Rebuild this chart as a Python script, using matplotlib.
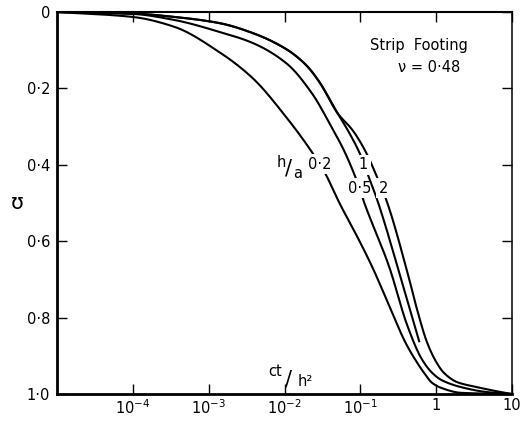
import numpy as np
import matplotlib
matplotlib.use("Agg")
import matplotlib.pyplot as plt
from matplotlib.ticker import NullLocator

# degree of consolidation U against time factor ct/h^2, strip footing, nu = 0.48
# (curves for h/a = 1 and 2 run together at early times)
x_02 = [1e-5, 1e-4, 3.55e-4, 1.38e-3, 3.8e-3, 0.0107, 0.0234, 0.0339, 0.053,
        0.0977, 0.144, 0.28, 0.379, 0.514, 0.695, 0.885, 1.164, 2.14, 10]
u_02 = [0, 0.013, 0.039, 0.105, 0.173, 0.277, 0.369, 0.42, 0.50,
        0.60, 0.668, 0.80, 0.859, 0.906, 0.945, 0.971, 0.984, 0.997, 1.0]

x_05 = [1e-5, 1e-4, 3.55e-4, 1.38e-3, 3.8e-3, 0.0107, 0.0234, 0.0389, 0.0617,
        0.0891, 0.113, 0.241, 0.415, 0.635, 0.859, 1.164, 2.13, 4.69, 10]
u_05 = [0, 0.005, 0.021, 0.052, 0.081, 0.135, 0.215, 0.29, 0.365,
        0.44, 0.50, 0.668, 0.82, 0.906, 0.942, 0.963, 0.982, 0.995, 1.0]

x_1 = [1e-5, 1e-4, 3.55e-4, 1.38e-3, 3.8e-3, 0.0107, 0.0195, 0.0288, 0.0501,
       0.0708, 0.0977, 0.123, 0.167, 0.346, 0.597]
u_1 = [0, 0.004, 0.013, 0.029, 0.055, 0.098, 0.140, 0.183, 0.265,
       0.315, 0.369, 0.421, 0.492, 0.70, 0.862]

x_2 = [1e-5, 1e-4, 3.55e-4, 1.38e-3, 3.8e-3, 0.0107, 0.0195, 0.0288, 0.0501,
       0.0794, 0.120, 0.162, 0.22, 0.442, 0.562, 0.762, 1.0, 1.27, 1.89, 3.46, 7.16, 10]
u_2 = [0, 0.004, 0.013, 0.029, 0.055, 0.098, 0.140, 0.183, 0.265,
       0.31, 0.369, 0.427, 0.492, 0.70, 0.78, 0.866, 0.916, 0.945, 0.969, 0.982, 0.995, 1.0]

x_ticks = [1e-4, 1e-3, 1e-2, 1e-1, 1, 10]
x_ticklabels = [r'$\mathregular{10^{-4}}$', r'$\mathregular{10^{-3}}$',
                r'$\mathregular{10^{-2}}$', r'$\mathregular{10^{-1}}$', '1', '10']
y_ticks = [0, 0.2, 0.4, 0.6, 0.8, 1.0]
y_ticklabels = ['0', '0·2', '0·4', '0·6', '0·8', '1·0']


def smooth(xk, yk, n=300):
    """Monotone cubic (Fritsch-Carlson) through the points, in log10(x)."""
    lx = np.log10(np.asarray(xk, float))
    y = np.asarray(yk, float)
    h = np.diff(lx)
    d = np.diff(y) / h
    m = np.zeros_like(y)
    m[0], m[-1] = d[0], d[-1]
    for k in range(1, len(y) - 1):
        if d[k - 1] * d[k] > 0:
            w1 = 2 * h[k] + h[k - 1]
            w2 = h[k] + 2 * h[k - 1]
            m[k] = (w1 + w2) / (w1 / d[k - 1] + w2 / d[k])
    xs = np.linspace(lx[0], lx[-1], n)
    idx = np.clip(np.searchsorted(lx, xs) - 1, 0, len(h) - 1)
    t = (xs - lx[idx]) / h[idx]
    h00 = 2 * t**3 - 3 * t**2 + 1
    h10 = t**3 - 2 * t**2 + t
    h01 = -2 * t**3 + 3 * t**2
    h11 = t**3 - t**2
    ys = (h00 * y[idx] + h10 * h[idx] * m[idx]
          + h01 * y[idx + 1] + h11 * h[idx] * m[idx + 1])
    return 10 ** xs, ys


plt.rcParams['font.family'] = ['DejaVu Sans']
plt.rcParams['mathtext.fontset'] = 'dejavusans'

fig = plt.figure(figsize=(5.21, 4.25), dpi=100)
ax = fig.add_axes([57 / 521, 31 / 425, 455 / 521, 382 / 425])

lw = 1.5
ax.plot(*smooth(x_02, u_02), color='black', lw=lw, zorder=2)
ax.plot(*smooth(x_05, u_05), color='black', lw=lw, zorder=2)
ax.plot(*smooth(x_1, u_1), color='black', lw=lw, zorder=4)
ax.plot(*smooth(x_2, u_2), color='black', lw=lw, zorder=4)

ax.set_xscale('log')
ax.set_xlim(1e-5, 10)
ax.set_ylim(1.0, 0)
ax.xaxis.set_minor_locator(NullLocator())
ax.set_xticks(x_ticks)
ax.set_xticklabels(x_ticklabels)
ax.set_yticks(y_ticks)
ax.set_yticklabels(y_ticklabels)

ax.tick_params(direction='in', length=7, width=1.0, top=True, right=True,
               labelsize=10.5, colors='black')
ax.tick_params(axis='x', pad=3)
ax.tick_params(axis='y', pad=5)

ax.spines['left'].set_linewidth(2.0)
ax.spines['bottom'].set_linewidth(2.0)
ax.spines['top'].set_linewidth(1.5)
ax.spines['right'].set_linewidth(1.1)

# curve labels sit on their curves, white box breaks the line
box = dict(facecolor='white', edgecolor='none', pad=2)
ax.text(0.029, 0.398, '0·2', ha='center', va='center', fontsize=10.5, bbox=box, zorder=3)
ax.text(0.098, 0.461, '0·5', ha='center', va='center', fontsize=10.5, bbox=box, zorder=3)
ax.text(0.110, 0.40, '1', ha='center', va='center', fontsize=10.5, bbox=box, zorder=5)
ax.text(0.20, 0.461, '2', ha='center', va='center', fontsize=10.5, bbox=box, zorder=5)

ax.text(9.1e-3, 0.393, 'h', ha='center', va='center', fontsize=10.5)
ax.text(0.0112, 0.410, '/', ha='center', va='center', fontsize=15)
ax.text(0.0148, 0.423, 'a', ha='center', va='center', fontsize=10.5)

ax.text(7.6e-3, 0.942, 'ct', ha='center', va='center', fontsize=10.5)
ax.text(0.0114, 0.962, '/', ha='center', va='center', fontsize=15)
ax.text(0.019, 0.968, 'h²', ha='center', va='center', fontsize=10.5)

ax.text(0.60, 0.089, 'Strip  Footing', ha='center', va='center', fontsize=10.5)
ax.text(0.81, 0.144, 'ν = 0·48', ha='center', va='center', fontsize=10.5)

ax.text(-0.088, 0.5, 'ʊ', transform=ax.transAxes, ha='center', va='center', fontsize=15)

fig.savefig('out.png', dpi=100)
